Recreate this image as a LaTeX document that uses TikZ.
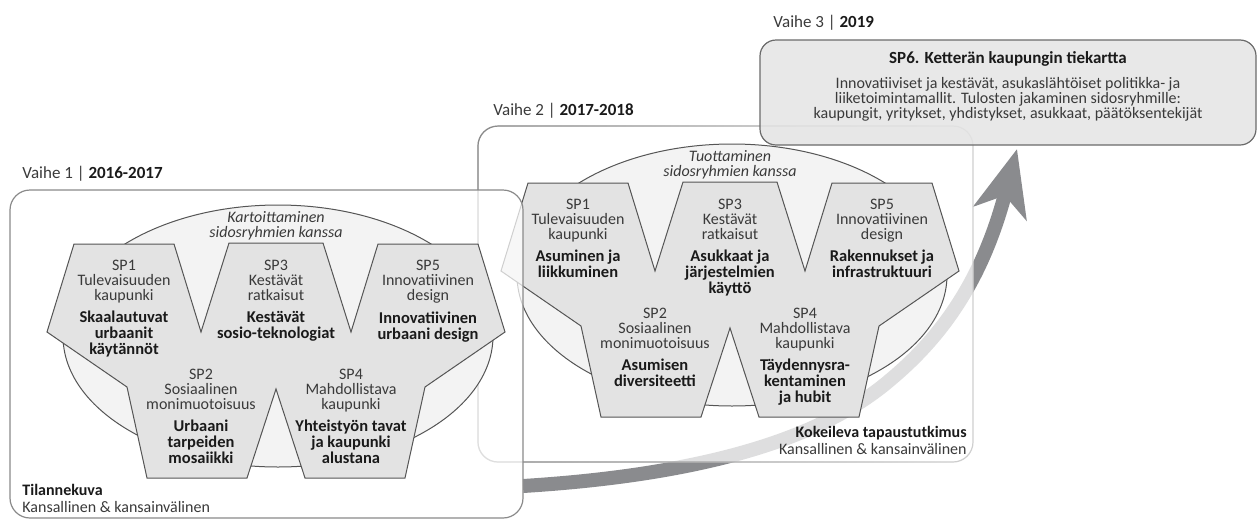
\documentclass[tikz,border=0pt]{standalone}
\usepackage{fontspec}
\setmainfont{Carlito}
\usetikzlibrary{positioning,arrows.meta,fadings}

\definecolor{wfill}{HTML}{E3E3E3}
\definecolor{cloudfill}{HTML}{F3F3F3}
\definecolor{edgegray}{HTML}{555555}
\definecolor{boxgray}{HTML}{8A8A8A}
\definecolor{boxlight}{HTML}{D0D0D0}
\definecolor{roadgray}{HTML}{8A8B8E}
\definecolor{textgray}{HTML}{3A3A3A}
\definecolor{textdark}{HTML}{1A1A1A}
\definecolor{sp6fill}{HTML}{E4E4E4}
\definecolor{sp6edge}{HTML}{6A6A6A}

\tikzset{
  phasebox/.style={draw=boxgray, line width=.6pt, rounded corners=10pt, outer sep=0pt, fill=white, fill opacity=.72},
  wshape/.style={draw=edgegray, fill=wfill, line width=.5pt},
  stakecloud/.style={draw=edgegray, fill=cloudfill, line width=.5pt},
  spname/.style={anchor=north, align=center, inner sep=0pt, text=textgray, font=\fontsize{8}{7.5}\selectfont},
  sptheme/.style={anchor=north, align=center, inner sep=0pt, text=textdark, font=\bfseries\fontsize{8.25}{8}\selectfont},
  cloudlabel/.style={anchor=north, align=center, inner sep=0pt, text=textgray, font=\itshape\fontsize{8}{7.5}\selectfont},
  phaselabel/.style={anchor=base west, inner sep=0pt, text=textgray, font=\fontsize{8.5}{10}\selectfont},
  footlabel/.style={inner sep=0pt, text=textgray, font=\fontsize{8}{8.5}\selectfont},
  spfield/.pic={
    \draw[stakecloud] (231,4) ellipse [x radius=215, y radius=131];
    \draw[wshape] (0,0) -- (27,-88) -- (127,-88) -- (154,0) -- (182,-89) -- (276,-89) -- (304,0)
      -- (331,-88) -- (431,-88) -- (458,0) -- (378,55) -- (358,146) -- (258,146) -- (229,57)
      -- (200,146) -- (100,146) -- (80,55) -- cycle;
  }
}

\begin{document}
\begin{tikzpicture}[x=0.5pt, y=-0.5pt]
  \useasboundingbox (0,0) rectangle (1258,520);

  % phase headings
  \node[phaselabel] (v1) at (22,178.5) {Vaihe 1 | \textbf{\color{textdark}2016-2017}};
  \node[phaselabel] (v2) at (493,115.5) {Vaihe 2 | \textbf{\color{textdark}2017-2018}};
  \node[phaselabel] (v3) at (773,27.5) {Vaihe 3 | \textbf{\color{textdark}2019}};

  % road towards SP6
  \coordinate (roadstart) at (523,486);
  \coordinate (roadtip) at (1017,149);
  \draw[roadgray, line width=7pt, -{Stealth[length=33pt, width=27pt, inset=9pt]}]
    (roadstart) .. controls (700,475) and (820,440) .. (890,380)
    .. controls (950,330) and (985,270) .. (roadtip);

  % phase 2
  \node[phasebox, draw=boxlight, minimum width=247.5pt, minimum height=168pt] (p2) at (725.5,294) {};
  \draw[boxgray, line width=.6pt, rounded corners=10pt, path fading=east] (p2.south west) rectangle (p2.north east);
  \begin{scope}[shift={(501,271)}]
    \pic {spfield};
    \node[cloudlabel] (c2) at (229,-121) {Tuottaminen\\sidosryhmien kanssa};
    \node[spname] (b1n) at (77,-72) {SP1\\Tulevaisuuden\\kaupunki};
    \node[sptheme] (b1t) at (77,-21) {Asuminen ja\\liikkuminen};
    \node[spname] (b3n) at (229,-72) {SP3\\Kestävät\\ratkaisut};
    \node[sptheme] (b3t) at (229,-21) {Asukkaat ja\\järjestelmien\\käyttö};
    \node[spname] (b5n) at (381,-72) {SP5\\Innovatiivinen\\design};
    \node[sptheme] (b5t) at (381,-21) {Rakennukset ja\\infrastruktuuri};
    \node[spname] (b2n) at (154,37) {SP2\\Sosiaalinen\\monimuotoisuus};
    \node[sptheme] (b2t) at (154,88) {Asumisen\\diversiteetti};
    \node[spname] (b4n) at (304,37) {SP4\\Mahdollistava\\kaupunki};
    \node[sptheme] (b4t) at (304,88) {Täydennysra-\\kentaminen\\ja hubit};
  \end{scope}
  \node[footlabel, anchor=north east, align=right] (f2) at (967,425.5)
    {\textbf{\color{textdark}Kokeileva tapaustutkimus}\\Kansallinen \& kansainvälinen};

  % phase 1
  \node[phasebox, minimum width=256.5pt, minimum height=164pt] (p1) at (266.5,354) {};
  \begin{scope}[shift={(47,332)}]
    \pic {spfield};
    \node[cloudlabel] (c1) at (229,-121) {Kartoittaminen\\sidosryhmien kanssa};
    \node[spname] (a1n) at (77,-72) {SP1\\Tulevaisuuden\\kaupunki};
    \node[sptheme] (a1t) at (77,-21) {Skaalautuvat\\urbaanit\\käytännöt};
    \node[spname] (a3n) at (229,-72) {SP3\\Kestävät\\ratkaisut};
    \node[sptheme] (a3t) at (229,-21) {Kestävät\\sosio-teknologiat};
    \node[spname] (a5n) at (381,-72) {SP5\\Innovatiivinen\\design};
    \node[sptheme] (a5t) at (381,-21) {Innovatiivinen\\urbaani design};
    \node[spname] (a2n) at (154,37) {SP2\\Sosiaalinen\\monimuotoisuus};
    \node[sptheme] (a2t) at (154,88) {Urbaani\\tarpeiden\\mosaiikki};
    \node[spname] (a4n) at (304,37) {SP4\\Mahdollistava\\kaupunki};
    \node[sptheme] (a4t) at (304,88) {Yhteistyön tavat\\ja kaupunki\\alustana};
  \end{scope}
  \node[footlabel, anchor=north west, align=left] (f1) at (22,484)
    {\textbf{\color{textdark}Tilannekuva}\\Kansallinen \& kansainvälinen};

  % phase 3
  \node[draw=sp6edge, fill=sp6fill, fill opacity=.85, line width=.6pt, rounded corners=8pt,
        outer sep=0pt, minimum width=248pt, minimum height=52.5pt] (p3) at (1008,92.5) {};
  \node[anchor=base, inner sep=0pt, text=textdark, font=\bfseries\fontsize{8.5}{10}\selectfont] (sp6) at (1008,63.5)
    {SP6. Ketterän kaupungin tiekartta};
  \node[anchor=north, align=center, inner sep=0pt, text=textgray, font=\fontsize{8}{7.5}\selectfont] (sp6txt) at (1008,77)
    {Innovatiiviset ja kestävät, asukaslähtöiset politikka- ja\\
     liiketoimintamallit. Tulosten jakaminen sidosryhmille:\\
     kaupungit, yritykset, yhdistykset, asukkaat, päätöksentekijät};
\end{tikzpicture}
\end{document}
